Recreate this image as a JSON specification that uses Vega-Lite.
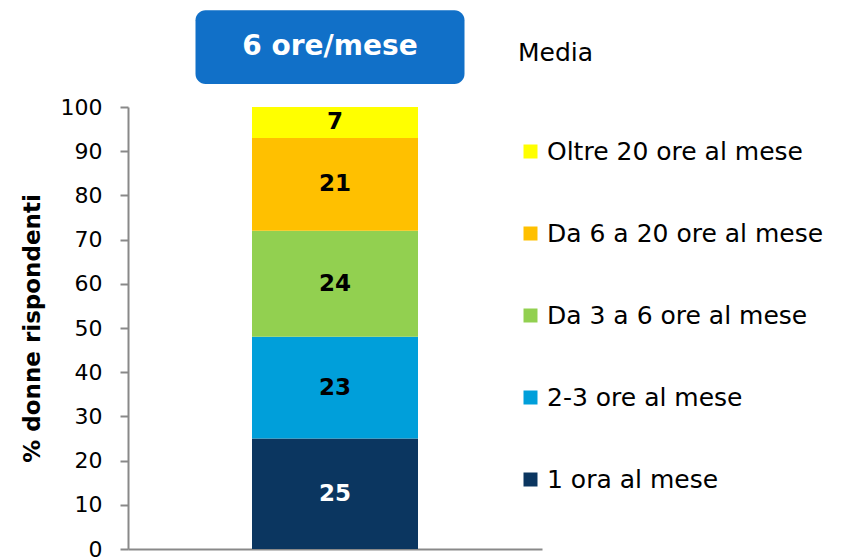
{
  "$schema": "https://vega.github.io/schema/vega-lite/v6.json",
  "width": 414,
  "height": 442,
  "autosize": "none",
  "padding": {"left": 128, "top": 107, "right": 299, "bottom": 9},
  "background": "white",
  "config": {"view": {"stroke": null}, "font": "DejaVu Sans"},
  "datasets": {
    "dist": [
      {"gruppo": "Media", "fascia": "1 ora al mese", "valore": 25, "ordine": 1},
      {"gruppo": "Media", "fascia": "2-3 ore al mese", "valore": 23, "ordine": 2},
      {"gruppo": "Media", "fascia": "Da 3 a 6 ore al mese", "valore": 24, "ordine": 3},
      {"gruppo": "Media", "fascia": "Da 6 a 20 ore al mese", "valore": 21, "ordine": 4},
      {"gruppo": "Media", "fascia": "Oltre 20 ore al mese", "valore": 7, "ordine": 5}
    ],
    "media": [
      {"gruppo": "Media", "etichetta": "6 ore/mese"}
    ]
  },
  "layer": [
    {
      "data": {"name": "dist"},
      "mark": {"type": "bar", "width": 166},
      "encoding": {
        "x": {"field": "gruppo", "type": "nominal", "scale": {"domain": ["Media"]},
              "axis": {"title": null, "labels": false, "ticks": false, "domainColor": "#898989", "domainWidth": 2}},
        "y": {"field": "valore", "type": "quantitative", "stack": "zero",
              "scale": {"domain": [0, 100], "nice": false},
              "axis": {"title": "% donne rispondenti", "values": [0,10,20,30,40,50,60,70,80,90,100],
                       "grid": false, "domainColor": "#898989", "domainWidth": 2, "tickColor": "#898989", "tickWidth": 2, "tickSize": 8,
                       "labelFontSize": 22, "labelColor": "#000000", "labelPadding": 18, "labelFont": "DejaVu Sans",
                       "titleFontSize": 23, "titleFontWeight": "bold", "titleColor": "#000000", "titlePadding": 16}},
        "order": {"field": "ordine", "type": "quantitative"},
        "color": {"field": "fascia", "type": "nominal",
                  "scale": {"domain": ["Oltre 20 ore al mese", "Da 6 a 20 ore al mese", "Da 3 a 6 ore al mese", "2-3 ore al mese", "1 ora al mese"],
                            "range": ["#FFFF00", "#FFC000", "#92D050", "#009FDA", "#0B3660"]},
                  "legend": {"title": "Media", "orient": "none", "legendX": 390, "legendY": -66,
                             "titleFontSize": 25, "titleFontWeight": "normal", "titleColor": "#000000", "titlePadding": 73,
                             "symbolType": "square", "symbolSize": 196, "symbolStrokeWidth": 0, "symbolOffset": 0,
                             "labelFontSize": 25, "labelColor": "#000000", "labelLimit": 400, "labelOffset": 4, "rowPadding": 56}}
      }
    },
    {
      "data": {"name": "dist"},
      "mark": {"type": "text", "fontSize": 23, "fontWeight": "bold", "baseline": "middle"},
      "encoding": {
        "x": {"field": "gruppo", "type": "nominal"},
        "y": {"field": "valore", "type": "quantitative", "stack": "zero", "bandPosition": 0.5},
        "order": {"field": "ordine", "type": "quantitative"},
        "text": {"field": "valore", "type": "quantitative"},
        "color": {"condition": {"test": "datum.fascia === '1 ora al mese'", "value": "#FFFFFF"}, "value": "#000000"}
      }
    },
    {
      "data": {"name": "media"},
      "mark": {"type": "bar", "width": 269, "cornerRadius": 10, "color": "#1170C8", "xOffset": -5},
      "encoding": {
        "x": {"field": "gruppo", "type": "nominal"},
        "y": {"datum": 105.2},
        "y2": {"datum": 121.9}
      }
    },
    {
      "data": {"name": "media"},
      "mark": {"type": "text", "fontSize": 28, "fontWeight": "bold", "color": "#FFFFFF", "baseline": "middle", "xOffset": -5},
      "encoding": {
        "x": {"field": "gruppo", "type": "nominal"},
        "y": {"datum": 113.6},
        "text": {"field": "etichetta", "type": "nominal"}
      }
    }
  ]
}
